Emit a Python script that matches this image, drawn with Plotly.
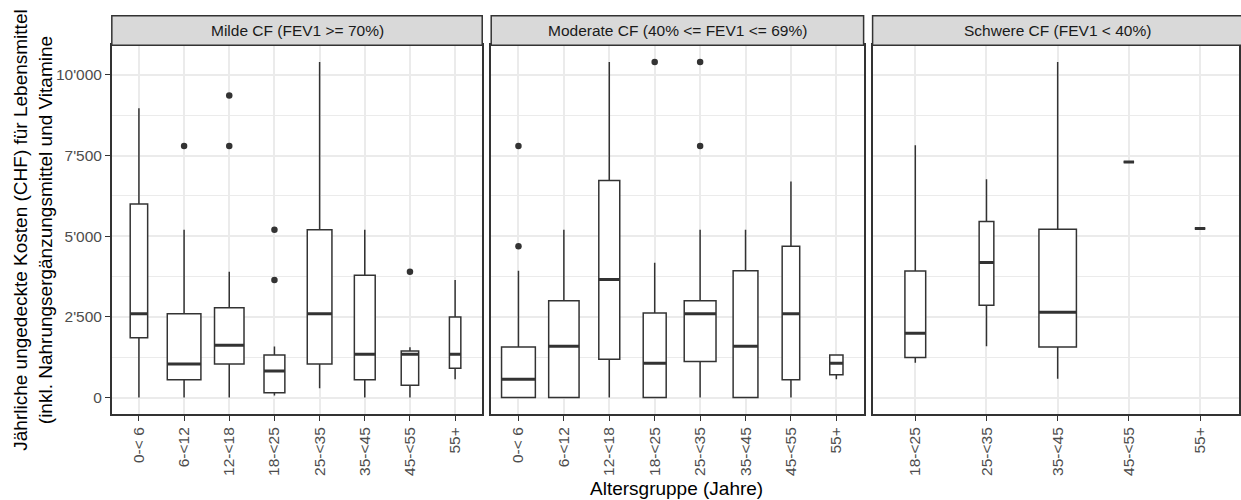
import plotly.graph_objects as go

# ---------------- data ----------------
panel_titles = ["Milde CF (FEV1 >= 70%)",
                "Moderate CF (40% <= FEV1 <= 69%)",
                "Schwere CF (FEV1 < 40%)"]

cats_milde = ["0-< 6", "6-<12", "12-<18", "18-<25", "25-<35", "35-<45", "45-<55", "55+"]
milde_q1 = [1850, 550, 1040, 150, 1040, 550, 380, 910]
milde_med = [2600, 1040, 1620, 820, 2600, 1340, 1340, 1340]
milde_q3 = [6000, 2600, 2780, 1320, 5200, 3790, 1440, 2500]
milde_lo = [0, 0, 0, 60, 290, 0, 0, 570]
milde_hi = [8970, 5200, 3900, 1580, 10400, 5200, 1560, 3640]
milde_out = [[], [7800], [9360, 7800], [5200, 3640], [], [], [3900], []]
milde_n = [7, 26, 20, 10, 14, 10, 7, 3]

cats_moderat = ["0-< 6", "6-<12", "12-<18", "18-<25", "25-<35", "35-<45", "45-<55", "55+"]
moderat_q1 = [0, 0, 1190, 0, 1120, 0, 550, 710]
moderat_med = [570, 1590, 3660, 1060, 2600, 1590, 2600, 1060]
moderat_q3 = [1570, 3000, 6730, 2620, 3000, 3930, 4690, 1320]
moderat_lo = [0, 0, 0, 0, 0, 0, 0, 570]
moderat_hi = [3930, 5200, 10400, 4180, 5200, 5200, 6700, 1320]
moderat_out = [[4690, 7800], [], [], [10400], [10400, 7800], [], [], []]
moderat_n = [26, 21, 10, 12, 23, 14, 7, 4]

cats_schwer = ["18-<25", "25-<35", "35-<45", "45-<55", "55+"]
schwer_q1 = [1240, 2860, 1570, 7300, 5240]
schwer_med = [1990, 4190, 2640, 7300, 5240]
schwer_q3 = [3920, 5460, 5220, 7300, 5240]
schwer_lo = [1080, 1590, 580, 7300, 5240]
schwer_hi = [7820, 6770, 10400, 7300, 5240]
schwer_out = [[], [], [], [], []]
schwer_n = [4, 2, 13, 1, 1]

y_ticks = [0, 2500, 5000, 7500, 10000]
y_minor = [1250, 3750, 6250, 8750]

y_title = ("Jährliche ungedeckte Kosten (CHF) für Lebensmittel<br>"
           "(inkl. Nahrungsergänzungsmittel und Vitamine")
x_title = "Altersgruppe (Jahre)"

# ---------------- layout constants ----------------
W, H = 1241, 500
FONT = "Arial, 'Liberation Sans', sans-serif"
DARK = "#333333"
GRID = "#EBEBEB"
TICKC = "#4D4D4D"
TFS = 15.5

panels = [
    dict(cats=cats_milde, q1=milde_q1, med=milde_med, q3=milde_q3, lo=milde_lo,
         hi=milde_hi, out=milde_out, n=milde_n, dom=(112, 483), rng=(-0.6, 7.6)),
    dict(cats=cats_moderat, q1=moderat_q1, med=moderat_med, q3=moderat_q3, lo=moderat_lo,
         hi=moderat_hi, out=moderat_out, n=moderat_n, dom=(492, 865), rng=(-0.6, 7.6)),
    dict(cats=cats_schwer, q1=schwer_q1, med=schwer_med, q3=schwer_q3, lo=schwer_lo,
         hi=schwer_hi, out=schwer_out, n=schwer_n, dom=(874, 1241), rng=(-0.6, -0.6 + 367 / 71.3)),
]

Y_TOP, Y_BOT = 45.3, 414.3
STRIP_TOP = 15.7
ydom = [1 - Y_BOT / H, 1 - Y_TOP / H]

fig = go.Figure()
shapes = []
annotations = []
WIDTH_K = 0.146

for k, p in enumerate(panels):
    sfx = "" if k == 0 else str(k + 1)
    xref, yref = "x" + sfx, "y" + sfx
    pos = list(range(len(p["cats"])))
    mx, my = [], []
    ox, oy = [], []
    for i in pos:
        w = WIDTH_K * p["n"][i] ** 0.5
        fig.add_trace(go.Box(
            x=[i], q1=[p["q1"][i]], median=[p["med"][i]], q3=[p["q3"][i]],
            lowerfence=[p["lo"][i]], upperfence=[p["hi"][i]],
            width=w, whiskerwidth=0, boxpoints=False,
            fillcolor="white", line=dict(color=DARK, width=1.5),
            xaxis=xref, yaxis=yref, showlegend=False, hoverinfo="skip"))
        mx += [i - w / 2, i + w / 2, None]
        my += [p["med"][i], p["med"][i], None]
        for v in p["out"][i]:
            ox.append(i)
            oy.append(v)
    fig.add_trace(go.Scatter(x=mx, y=my, mode="lines", line=dict(color=DARK, width=3),
                             xaxis=xref, yaxis=yref, showlegend=False, hoverinfo="skip"))
    if ox:
        fig.add_trace(go.Scatter(x=ox, y=oy, mode="markers",
                                 marker=dict(color=DARK, size=6.5),
                                 xaxis=xref, yaxis=yref, showlegend=False, hoverinfo="skip"))

    x0p, x1p = p["dom"][0] / W, p["dom"][1] / W
    fig.update_layout(**{
        "xaxis" + sfx: dict(
            domain=[x0p, x1p], range=list(p["rng"]), anchor=yref,
            tickvals=pos, ticktext=p["cats"], tickangle=-90,
            tickfont=dict(family=FONT, size=TFS, color=TICKC),
            ticks="outside", ticklen=5, tickwidth=1.4, tickcolor=DARK,
            showgrid=True, gridcolor=GRID, gridwidth=1.5, zeroline=False,
            showline=True, linecolor=DARK, linewidth=1.5, mirror=True),
        "yaxis" + sfx: dict(
            domain=ydom, range=[-520, 10920], anchor=xref,
            tickvals=y_ticks, ticktext=[f"{v:,}".replace(",", "'") for v in y_ticks],
            tickfont=dict(family=FONT, size=TFS, color=TICKC),
            ticks="outside" if k == 0 else "", ticklen=5, tickwidth=1.4, tickcolor=DARK,
            showticklabels=(k == 0),
            showgrid=True, gridcolor=GRID, gridwidth=1.5, zeroline=False,
            minor=dict(tickvals=y_minor, showgrid=True, gridcolor=GRID, gridwidth=0.8, ticks=""),
            showline=True, linecolor=DARK, linewidth=1.5, mirror=True),
    })
    # facet strip
    shapes.append(dict(type="rect", xref="paper", yref="paper",
                       x0=x0p, x1=(x1p if k < 2 else 1.005),
                       y0=1 - Y_TOP / H, y1=1 - STRIP_TOP / H,
                       fillcolor="#D9D9D9", line=dict(color=DARK, width=1.5), layer="above"))
    annotations.append(dict(text=panel_titles[k], xref="paper", yref="paper",
                            x=(p["dom"][0] + (p["dom"][1] if k < 2 else 1245)) / 2 / W,
                            y=1 - (Y_TOP + STRIP_TOP) / 2 / H,
                            xanchor="center", yanchor="middle", showarrow=False,
                            font=dict(family=FONT, size=TFS, color="#1A1A1A")))

annotations.append(dict(text=y_title, xref="paper", yref="paper",
                        x=33 / W, y=1 - (Y_TOP + Y_BOT) / 2 / H, textangle=-90,
                        xanchor="center", yanchor="middle", showarrow=False,
                        font=dict(family=FONT, size=19, color="black")))
annotations.append(dict(text=x_title, xref="paper", yref="paper",
                        x=678 / W, y=1 - 488 / H,
                        xanchor="center", yanchor="middle", showarrow=False,
                        font=dict(family=FONT, size=19, color="black")))

fig.update_layout(width=W, height=H, margin=dict(l=0, r=0, t=0, b=0),
                  paper_bgcolor="white", plot_bgcolor="white",
                  boxmode="overlay", showlegend=False,
                  shapes=shapes, annotations=annotations)

fig.write_html("out.html")
